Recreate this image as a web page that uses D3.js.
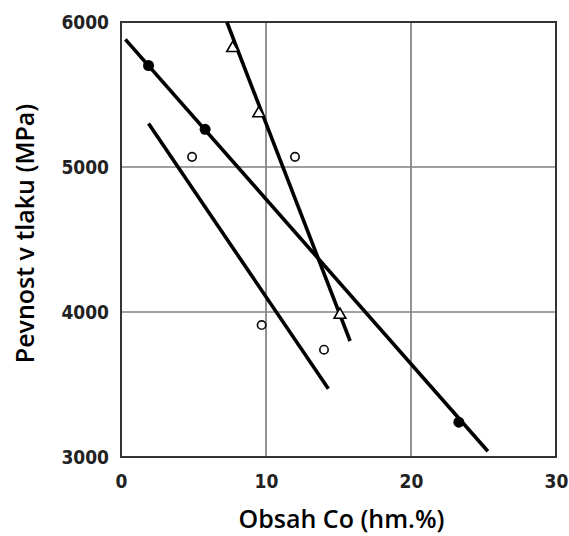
<!DOCTYPE html>
<html>
<head>
<meta charset="utf-8">
<script src="https://cdn.jsdelivr.net/npm/d3@7"></script>
<style>
  html, body { margin: 0; padding: 0; background: #fff; }
  svg { display: block; }
</style>
</head>
<body>
<svg id="chart" width="569" height="536"></svg>
<script>
// Compressive strength vs. cobalt content
const xTicks = [0, 10, 20, 30];
const yTicks = [3000, 4000, 5000, 6000];

// filled circles
const filledX = [1.9, 5.8, 23.3];
const filledY = [5700, 5260, 3240];
// open triangles
const triX = [7.7, 9.5, 15.1];
const triY = [5820, 5370, 3980];
// open circles
const openX = [4.9, 12.0, 9.7, 14.0];
const openY = [5070, 5070, 3910, 3740];

// fitted trend lines (end points)
const lineFilledX = [0.3, 25.3];
const lineFilledY = [5880, 3040];
const lineTriX = [7.3, 15.8];
const lineTriY = [6000, 3800];
const lineOpenX = [1.9, 14.3];
const lineOpenY = [5300, 3470];

const svg = d3.select("#chart");
const x = d3.scaleLinear().domain([0, 30]).range([121, 556]);
const y = d3.scaleLinear().domain([3000, 6000]).range([457, 22]);

const tickFont = "'DejaVu Sans Condensed', 'DejaVu Sans', sans-serif";
const titleFont = "'Open Sans', 'Noto Sans', sans-serif";

// grid lines inside the frame
const g = svg.append("g");
g.selectAll("line.vg").data(xTicks.slice(1, -1)).join("line")
  .attr("x1", d => x(d)).attr("x2", d => x(d))
  .attr("y1", y(6000)).attr("y2", y(3000))
  .attr("stroke", "#6e6e6e").attr("stroke-width", 1.5);
g.selectAll("line.hg").data(yTicks.slice(1, -1)).join("line")
  .attr("x1", x(0)).attr("x2", x(30))
  .attr("y1", d => y(d)).attr("y2", d => y(d))
  .attr("stroke", "#808080").attr("stroke-width", 1.6);

// frame
g.append("rect")
  .attr("x", x(0)).attr("y", y(6000))
  .attr("width", x(30) - x(0)).attr("height", y(3000) - y(6000))
  .attr("fill", "none").attr("stroke", "#333").attr("stroke-width", 2);

// axes (labels only)
const xAxis = d3.axisBottom(x).tickValues(xTicks).tickSize(0).tickPadding(18)
  .tickFormat(d3.format("d"));
const yAxis = d3.axisLeft(y).tickValues(yTicks).tickSize(0).tickPadding(12)
  .tickFormat(d3.format("d"));

const gx = svg.append("g").attr("transform", `translate(0,${y(3000)})`).call(xAxis);
const gy = svg.append("g").attr("transform", `translate(${x(0)},0)`).call(yAxis);
[gx, gy].forEach(a => {
  a.select(".domain").remove();
  a.selectAll("text")
    .attr("font-family", tickFont)
    .attr("font-weight", "bold")
    .attr("font-size", 19)
    .attr("fill", "#222");
});

// trend lines
const line = d3.line().x(d => x(d[0])).y(d => y(d[1]));
const trends = [
  d3.zip(lineFilledX, lineFilledY),
  d3.zip(lineTriX, lineTriY),
  d3.zip(lineOpenX, lineOpenY)
];
svg.append("g").selectAll("path").data(trends).join("path")
  .attr("d", line)
  .attr("fill", "none").attr("stroke", "#000")
  .attr("stroke-width", 3.6).attr("stroke-linecap", "butt");

// markers
svg.append("g").selectAll("circle").data(d3.zip(filledX, filledY)).join("circle")
  .attr("cx", d => x(d[0])).attr("cy", d => y(d[1])).attr("r", 5.5)
  .attr("fill", "#000");

const tri = d3.symbol().type(d3.symbolTriangle).size(60);
svg.append("g").selectAll("path").data(d3.zip(triX, triY)).join("path")
  .attr("d", tri)
  .attr("transform", d => `translate(${x(d[0])},${y(d[1])})`)
  .attr("fill", "#fff").attr("stroke", "#000").attr("stroke-width", 1.6);

svg.append("g").selectAll("circle").data(d3.zip(openX, openY)).join("circle")
  .attr("cx", d => x(d[0])).attr("cy", d => y(d[1])).attr("r", 4.2)
  .attr("fill", "#fff").attr("stroke", "#111").attr("stroke-width", 1.7);

// axis titles
svg.append("text")
  .attr("x", (x(0) + x(30)) / 2 + 3).attr("y", 528)
  .attr("text-anchor", "middle")
  .attr("font-family", titleFont).attr("font-weight", 600).attr("font-size", 25)
  .attr("fill", "#000")
  .text("Obsah Co (hm.%)");

svg.append("text")
  .attr("transform", `translate(34,${(y(3000) + y(6000)) / 2 - 6}) rotate(-90)`)
  .attr("text-anchor", "middle")
  .attr("font-family", titleFont).attr("font-weight", 600).attr("font-size", 25)
  .attr("fill", "#000")
  .text("Pevnost v tlaku (MPa)");
</script>
</body>
</html>
